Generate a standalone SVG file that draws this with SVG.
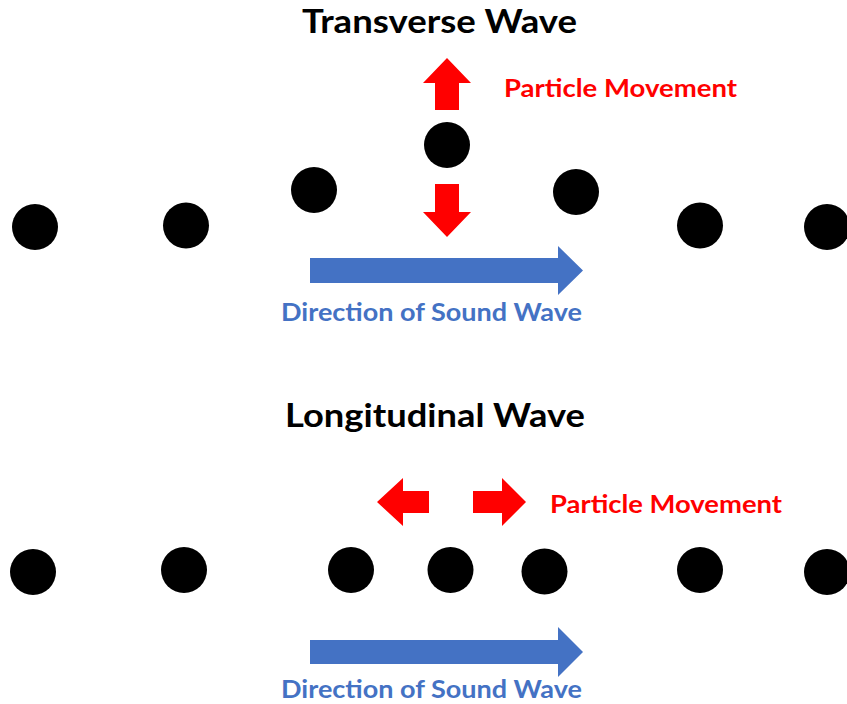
<svg xmlns="http://www.w3.org/2000/svg" width="847" height="704" viewBox="0 0 847 704">
<style>
.dot{fill:#000}
.red{fill:#ff0000}
.blue{fill:#4472c4}
.title{font-family:Lato,"Open Sans","Liberation Sans",sans-serif;font-weight:bold;font-size:32px;fill:#000}
.pm{font-family:Lato,"Open Sans","Liberation Sans",sans-serif;font-weight:bold;font-size:25px;fill:#ff0000}
.dir{font-family:Lato,"Open Sans","Liberation Sans",sans-serif;font-weight:bold;font-size:24px;fill:#4472c4}
</style>
<rect width="847" height="704" fill="#fff"/>
<g id="transverse">
  <text class="title" x="302" y="33" textLength="275" lengthAdjust="spacingAndGlyphs">Transverse Wave</text>
  <g id="t-dots">
    <circle class="dot" cx="35" cy="227" r="23"/>
    <circle class="dot" cx="186" cy="225.5" r="23"/>
    <circle class="dot" cx="314" cy="190" r="23"/>
    <circle class="dot" cx="447" cy="145" r="23"/>
    <circle class="dot" cx="576" cy="192" r="23"/>
    <circle class="dot" cx="700" cy="225.5" r="23"/>
    <circle class="dot" cx="827" cy="227" r="23"/>
  </g>
  <g id="t-particle-arrows">
    <polygon class="red" points="447,58 471,83 459,83 459,110 435,110 435,83 423,83"/>
    <polygon class="red" points="435,184 459,184 459,212 471,212 447,237 423,212 435,212"/>
  </g>
  <text class="pm" x="504" y="97" textLength="233" lengthAdjust="spacingAndGlyphs">Particle Movement</text>
  <polygon class="blue" points="310,258 558,258 558,246 583,270.5 558,295 558,283 310,283"/>
  <text class="dir" x="281" y="321" textLength="301" lengthAdjust="spacingAndGlyphs">Direction of Sound Wave</text>
</g>
<g id="longitudinal">
  <text class="title" x="285" y="427" textLength="300" lengthAdjust="spacingAndGlyphs">Longitudinal Wave</text>
  <g id="l-dots">
    <circle class="dot" cx="33" cy="572" r="23"/>
    <circle class="dot" cx="184" cy="570" r="23"/>
    <circle class="dot" cx="351" cy="570" r="23"/>
    <circle class="dot" cx="450.5" cy="570" r="23"/>
    <circle class="dot" cx="544.5" cy="571.5" r="23"/>
    <circle class="dot" cx="700" cy="570" r="23"/>
    <circle class="dot" cx="827" cy="572" r="23"/>
  </g>
  <g id="l-particle-arrows">
    <polygon class="red" points="377,502 403,478 403,491 429,491 429,513 403,513 403,526"/>
    <polygon class="red" points="526,502 502,478 502,491 473,491 473,513 502,513 502,526"/>
  </g>
  <text class="pm" x="550" y="513" textLength="232" lengthAdjust="spacingAndGlyphs">Particle Movement</text>
  <polygon class="blue" points="310,640 558,640 558,627 583,652 558,677 558,664 310,664"/>
  <text class="dir" x="281" y="698" textLength="301" lengthAdjust="spacingAndGlyphs">Direction of Sound Wave</text>
</g>
</svg>
